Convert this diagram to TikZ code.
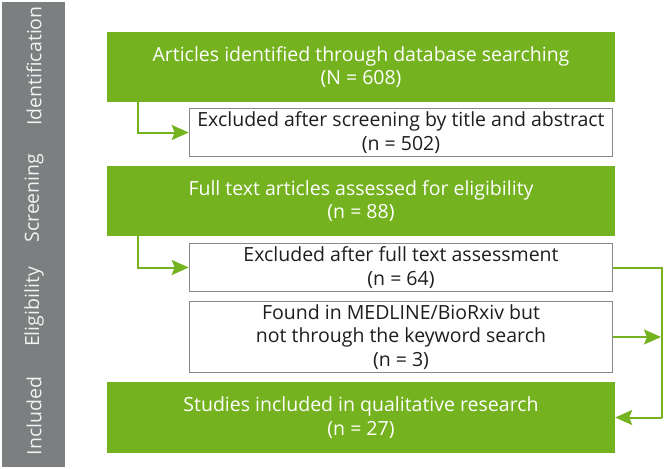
\documentclass[tikz,border=0pt]{standalone}
\usepackage{fontspec}
\setmainfont{Open Sans}
\usetikzlibrary{arrows.meta}
\definecolor{pgreen}{HTML}{74B21F}
\definecolor{pgray}{HTML}{7B7F7F}
\definecolor{pborder}{HTML}{888A8A}
\definecolor{ptext}{HTML}{1E1E1E}
\tikzset{
  x=1pt, y=-1pt,
  greenbox/.style={fill=pgreen, draw=none, text=white, align=center, inner sep=0pt,
    minimum width=508pt, font=\fontsize{19.5}{23.5}\selectfont},
  whitebox/.style={fill=white, draw=pborder, line width=1.6pt, text=ptext, align=center, inner sep=0pt,
    minimum width=423pt, font=\fontsize{19.5}{23.5}\selectfont},
  stagelabel/.style={rotate=90, text=white!90!gray, font=\fontsize{19.5}{23}\selectfont, inner sep=0pt},
  flow/.style={draw=pgreen, line width=2pt, -{Stealth[length=17pt,width=15pt,inset=3pt]}},
  flowline/.style={draw=pgreen, line width=2pt}
}
\begin{document}
\begin{tikzpicture}
\useasboundingbox (0,0) rectangle (665,469);
\fill[pgray] (2,2) rectangle (65,467);
\node[stagelabel] (s1) at (34,66) {Identification};
\node[stagelabel] (s2) at (34,198) {Screening};
\node[stagelabel] (s3) at (34,307) {Eligibility};
\node[stagelabel] (s4) at (34,416) {Included};

\node[greenbox, minimum height=70pt] (g1) at (361,67) {Articles identified through database searching\\(N = 608)};
\node[whitebox, minimum height=48pt] (e1) at (401,132.5) {Excluded after screening by title and abstract\\(n = 502)};
\node[greenbox, minimum height=70pt] (g2) at (361,201) {Full text articles assessed for eligibility\\(n = 88)};
\node[whitebox, minimum height=48pt] (e2) at (401,267.5) {Excluded after full text assessment\\(n = 64)};
\node[whitebox, minimum height=71pt] (f1) at (401,337) {Found in MEDLINE/BioRxiv but\\not through the keyword search\\(n = 3)};
\node[greenbox, minimum height=71pt] (g3) at (361,417.5) {Studies included in qualitative research\\(n = 27)};

\coordinate (lx) at (138,0);
\coordinate (rx) at (662,0);
\draw[flow] (g1.south -| lx) |- (e1.west);
\draw[flow] (g2.south -| lx) |- (e2.west);
\draw[flowline] (e2.east) -- (e2.east -| rx) -- (g3.east -| rx);
\draw[flow] (g3.east -| rx) -- (g3.east);
\draw[flow] (f1.east) -- ([xshift=-1pt]f1.east -| rx);
\end{tikzpicture}
\end{document}
